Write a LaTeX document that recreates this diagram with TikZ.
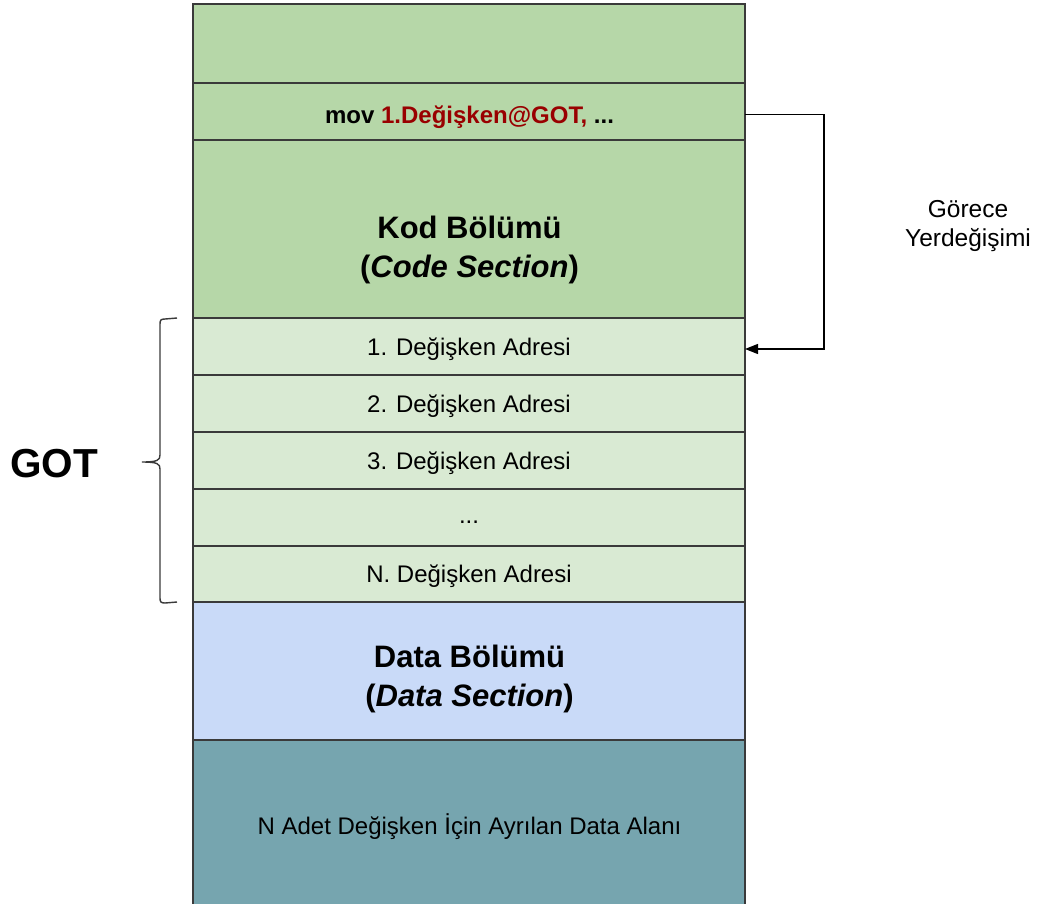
\documentclass[tikz,border=0pt]{standalone}
\usepackage{fontspec}
\setmainfont{Liberation Sans}
\usetikzlibrary{arrows.meta}
\definecolor{codegreen}{HTML}{B6D7A8}
\definecolor{gotgreen}{HTML}{D9EAD3}
\definecolor{datablue}{HTML}{C9DAF8}
\definecolor{areateal}{HTML}{76A5AF}
\definecolor{darkred}{HTML}{990000}
\definecolor{edge}{HTML}{3A3A3A}
\begin{document}
\begin{tikzpicture}[x=1pt,y=-1pt,
  cell/.style={draw=edge, line width=1.1pt, minimum width=552pt, inner sep=0pt,
               outer sep=0pt, anchor=north west},
  rowtext/.style={font=\fontsize{24}{28}\selectfont},
  bigtext/.style={font=\fontsize{31}{39}\selectfont\bfseries, align=center},
  link/.style={draw=black, line width=1.3pt},
  bracepath/.style={draw=edge, line width=1.4pt}
]
\useasboundingbox (0,0) rectangle (1038,903);

% memory layout, top to bottom
\node[cell, fill=codegreen, minimum height=79pt] (top) at (193,4) {};
\node[cell, fill=codegreen, minimum height=57pt] (mov) at (193,83) {};
\node[cell, fill=codegreen, minimum height=178pt] (code) at (193,140) {};
\node[cell, fill=gotgreen, minimum height=57pt] (g1) at (193,318) {};
\node[cell, fill=gotgreen, minimum height=57pt] (g2) at (193,375) {};
\node[cell, fill=gotgreen, minimum height=57pt] (g3) at (193,432) {};
\node[cell, fill=gotgreen, minimum height=57pt] (g4) at (193,489) {};
\node[cell, fill=gotgreen, minimum height=56pt] (g5) at (193,546) {};
\node[cell, fill=datablue, minimum height=138pt] (data) at (193,602) {};
\node[cell, fill=areateal, minimum height=180pt] (area) at (193,740) {};

% labels inside the sections
\node[font=\fontsize{24}{28}\selectfont\bfseries] (movtext) at (469.5,117)
  {mov \textcolor{darkred}{1.Değişken@GOT,} ...};
\node[bigtext] (codetext) at (469.5,250) {Kod Bölümü\\(\textit{Code Section})};
\node[rowtext] (t1) at ([yshift=-2.5pt]g1.center) {1. Değişken Adresi};
\node[rowtext] (t2) at ([yshift=-2.5pt]g2.center) {2. Değişken Adresi};
\node[rowtext] (t3) at ([yshift=-2.5pt]g3.center) {3. Değişken Adresi};
\node[rowtext] (t4) at ([yshift=-5pt]g4.center) {...};
\node[rowtext] (t5) at ([yshift=-2.5pt]g5.center) {N. Değişken Adresi};
\node[bigtext] (datatext) at (469.5,679) {Data Bölümü\\(\textit{Data Section})};
\node[rowtext] (areatext) at (469.5,827)
  {N Adet Değişken İçin Ayrılan Data Alanı};

% relative displacement from the instruction to the GOT entry
\coordinate (start) at ([yshift=-3pt]mov.east);
\coordinate (bendA) at (824,0 |- start);
\coordinate (bendB) at (824,0 |- t1.east);
\draw[link, -{Triangle[length=13pt,width=10pt]}]
  (start) -- (bendA) -- (bendB) -- (bendB -| g1.east);
\node[font=\fontsize{24.5}{29}\selectfont, align=center] (reloc) at (968,226)
  {Görece\\Yerdeğişimi};

% brace grouping the GOT entries
\coordinate (bt) at (177,0 |- g1.north);
\coordinate (bb) at (177,0 |- g5.south);
\coordinate (tip) at (142,462);
\draw[bracepath]
  (bt) -- (165,319) .. controls (161,319) and (160,320) .. (160,324)
  -- (160,455) .. controls (160,460) and (158,462) .. (tip)
  .. controls (158,462) and (160,464) .. (160,469)
  -- (160,598) .. controls (160,602) and (161,603) .. (165,603) -- (bb);
\node[font=\fontsize{40.5}{44}\selectfont\bfseries] (gotlabel) at (54,464) {GOT};
\end{tikzpicture}
\end{document}
